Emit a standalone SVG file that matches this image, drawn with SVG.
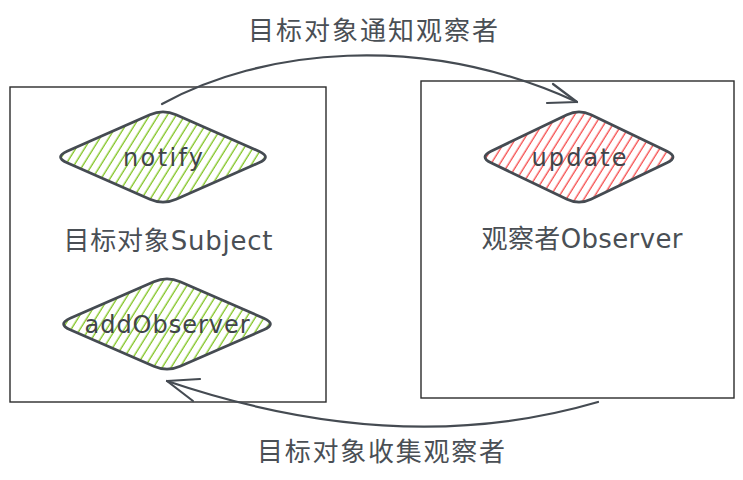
<svg xmlns="http://www.w3.org/2000/svg" width="743" height="480" viewBox="0 0 743 480">
<style>
.box{fill:none;stroke:#2b2b2b;stroke-width:1.4}
.dia{stroke:#454b52;stroke-width:2.8;stroke-linejoin:round}
.conn{fill:none;stroke:#454b52;stroke-width:2.2;stroke-linecap:round;stroke-linejoin:round}
.lbl{font-family:"DejaVu Sans","Noto Sans CJK SC",sans-serif;fill:#4a4f55;text-anchor:middle}
.dl{font-family:"DejaVu Sans","Noto Sans CJK SC",sans-serif;fill:#3f444a;text-anchor:middle;font-size:24px}
</style>
<defs>
<pattern id="hg" patternUnits="userSpaceOnUse" width="7.5" height="8" patternTransform="rotate(32)">
<line x1="4" y1="0" x2="4" y2="8" stroke="#7cc21a" stroke-width="1.3"/>
</pattern>
<pattern id="hr" patternUnits="userSpaceOnUse" width="7.5" height="8" patternTransform="rotate(32)">
<line x1="4" y1="0" x2="4" y2="8" stroke="#f54848" stroke-width="1.3"/>
</pattern>
</defs>
<rect width="743" height="480" fill="#ffffff"/>

<g id="subject">
<rect class="box" x="10" y="87" width="316" height="315"/>
<text class="lbl" x="168" y="250" font-size="26" textLength="209" lengthAdjust="spacing">目标对象Subject</text>
</g>

<g id="observer">
<rect class="box" x="421" y="81" width="313" height="317"/>
<text class="lbl" x="582" y="248" font-size="26" textLength="201" lengthAdjust="spacing">观察者Observer</text>
</g>

<g id="notify" transform="translate(163,157)">
<path class="dia" fill="url(#hg)" d="M-13.1,-42.2 Q0,-48 13.1,-42.2 L95.9,-5.8 Q109,0 95.9,5.8 L13.1,42.2 Q0,48 -13.1,42.2 L-95.9,5.8 Q-109,0 -95.9,-5.8 Z"/>
<text class="dl" x="0" y="9" textLength="80" lengthAdjust="spacing">notify</text>
</g>

<g id="update" transform="translate(579,157)">
<path class="dia" fill="url(#hr)" d="M-12,-42.2 Q0,-48 12,-42.2 L88,-5.8 Q100,0 88,5.8 L12,42.2 Q0,48 -12,42.2 L-88,5.8 Q-100,0 -88,-5.8 Z"/>
<text class="dl" x="0" y="9" textLength="95" lengthAdjust="spacing">update</text>
</g>

<g id="addObserver" transform="translate(167,324)">
<path class="dia" fill="url(#hg)" d="M-13.2,-42.2 Q0,-48 13.2,-42.2 L96.8,-5.8 Q110,0 96.8,5.8 L13.2,42.2 Q0,48 -13.2,42.2 L-96.8,5.8 Q-110,0 -96.8,-5.8 Z"/>
<text class="dl" x="0" y="9" textLength="165" lengthAdjust="spacing">addObserver</text>
</g>

<g id="connectors">
<path class="conn" d="M162,104 C260,50 420,30 577,102"/>
<polyline class="conn" points="547,103 577,102 553,84"/>
<path class="conn" d="M598,402 Q400,460 167,381"/>
<polyline class="conn" points="200,379 167,381 193,401"/>
</g>

<g id="labels">
<text class="lbl" x="373" y="40" font-size="26" textLength="250" lengthAdjust="spacing">目标对象通知观察者</text>
<text class="lbl" x="381" y="461" font-size="26" textLength="248" lengthAdjust="spacing">目标对象收集观察者</text>
</g>
</svg>
